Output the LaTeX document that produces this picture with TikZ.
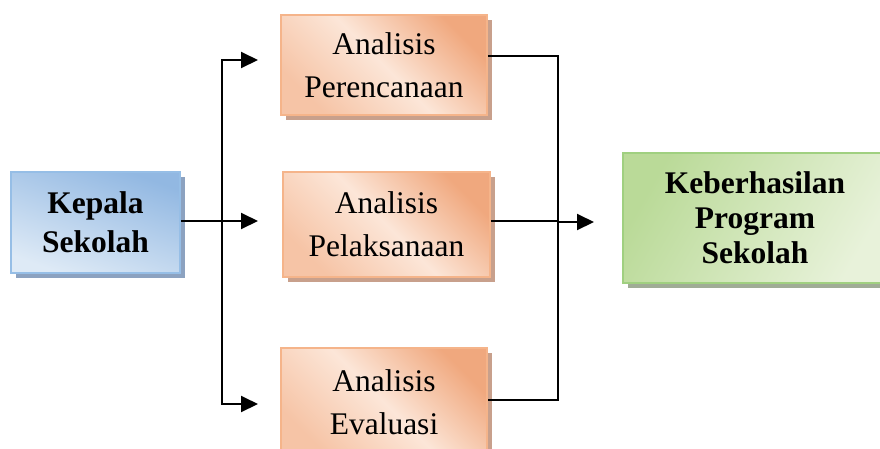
\documentclass[tikz,border=0pt]{standalone}
\usepackage{fontspec}
\setmainfont{Liberation Serif}
\usetikzlibrary{arrows.meta,shadows}
\definecolor{orDark}{RGB}{240,168,126}
\definecolor{orLight}{RGB}{252,230,216}
\definecolor{orMid}{RGB}{246,196,166}
\definecolor{orBorder}{RGB}{245,180,138}
\definecolor{orShadow}{RGB}{200,160,140}
\definecolor{blDark}{RGB}{146,184,226}
\definecolor{blLight}{RGB}{222,234,246}
\definecolor{blBorder}{RGB}{150,190,230}
\definecolor{blShadow}{RGB}{140,162,192}
\definecolor{grDark}{RGB}{186,218,152}
\definecolor{grLight}{RGB}{232,242,218}
\definecolor{grBorder}{RGB}{160,208,128}
\definecolor{grShadow}{RGB}{160,172,150}
\tikzset{
  boxbase/.style={rectangle, line width=1.6pt, align=center, inner sep=0pt},
  orbox/.style={boxbase, draw=orBorder, top color=orDark, bottom color=orMid, middle color=orLight, shading angle=-45,
    drop shadow={shadow xshift=4.5pt, shadow yshift=-4.5pt, fill=orShadow, opacity=1},
    font=\fontsize{31.5}{43}\selectfont},
  blbox/.style={boxbase, draw=blBorder, top color=blDark, bottom color=blLight, shading angle=-20,
    drop shadow={shadow xshift=4.5pt, shadow yshift=-4.5pt, fill=blShadow, opacity=1},
    font=\fontsize{31.5}{39}\selectfont\bfseries},
  grbox/.style={boxbase, draw=grBorder, left color=grDark, right color=grLight, shading angle=60,
    drop shadow={shadow xshift=4.5pt, shadow yshift=-4.5pt, fill=grShadow, opacity=1},
    font=\fontsize{31.5}{35}\selectfont\bfseries},
  conn/.style={line width=2pt, line join=miter},
  arr/.style={conn, -{Triangle[length=17pt,width=16pt]}}
}
\begin{document}
\begin{tikzpicture}[x=1pt,y=-1pt]
\useasboundingbox (0,0) rectangle (880,448);
\clip (0,0) rectangle (880,448);
\node[blbox, minimum width=169pt, minimum height=101pt] (kep) at (95.5,222.5) {Kepala\\Sekolah};
\node[orbox, minimum width=206pt, minimum height=100pt] (per) at (384,65) {Analisis\\Perencanaan};
\node[orbox, minimum width=207pt, minimum height=105pt] (pel) at (386.5,224.5) {Analisis\\Pelaksanaan};
\node[orbox, minimum width=206pt, minimum height=108pt] (eva) at (384,402) {Analisis\\Evaluasi};
\node[grbox, minimum width=264pt, minimum height=130pt] (keb) at (755,218) {Keberhasilan\\Program\\Sekolah};
\coordinate (jl) at (222,221);
\coordinate (a1) at (258,60);
\coordinate (a2) at (258,221);
\coordinate (a3) at (258,404);
\coordinate (r1) at (558,56);
\coordinate (r2) at (558,221);
\coordinate (r3) at (558,400);
\coordinate (tip) at (594,222);
\draw[conn] (kep.east |- jl) -- (jl);
\draw[arr] (jl) -- (a2);
\draw[arr] (jl) |- (a1);
\draw[arr] (jl) |- (a3);
\draw[conn] (per.east |- r1) -- (r1) -- (r3) -- (eva.east |- r3);
\draw[conn] (pel.east |- r2) -- (r2);
\draw[arr] (r2 |- tip) -- (tip);
\end{tikzpicture}
\end{document}
